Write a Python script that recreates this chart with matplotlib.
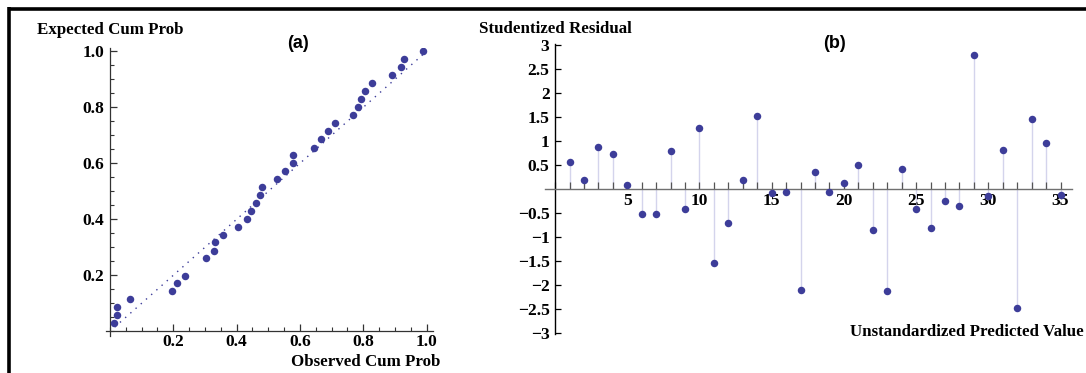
import matplotlib
matplotlib.use("Agg")
import matplotlib.pyplot as plt
from matplotlib.lines import Line2D
from matplotlib.ticker import MultipleLocator, FixedLocator
import numpy as np

# ---- data: panel (a) P-P plot ----
observed_cum_prob = [0.012, 0.021, 0.021, 0.063, 0.195, 0.213, 0.237, 0.304, 0.329, 0.333,
                     0.357, 0.403, 0.432, 0.445, 0.460, 0.474, 0.481, 0.526, 0.552, 0.577,
                     0.577, 0.643, 0.665, 0.689, 0.711, 0.766, 0.784, 0.792, 0.806, 0.827,
                     0.891, 0.919, 0.929, 0.989]
expected_cum_prob = [0.030, 0.058, 0.087, 0.114, 0.143, 0.171, 0.199, 0.260, 0.288, 0.317,
                     0.345, 0.373, 0.401, 0.430, 0.458, 0.486, 0.514, 0.543, 0.571, 0.600,
                     0.629, 0.656, 0.685, 0.717, 0.745, 0.774, 0.802, 0.830, 0.858, 0.887,
                     0.915, 0.943, 0.971, 1.000]
ref_line = [0.015, 1.0]

# ---- data: panel (b) studentized residuals ----
case_index = list(range(1, 36))
studentized_residual = [0.56, 0.19, 0.87, 0.74, 0.08, -0.51, -0.51, 0.79, -0.42, 1.27,
                        -1.54, -0.71, 0.19, 1.53, -0.09, -0.05, -2.09, 0.36, -0.05, 0.13,
                        0.50, -0.86, -2.12, 0.42, -0.42, -0.80, -0.24, -0.34, 2.79, -0.15,
                        0.82, -2.47, 1.46, 0.96, -0.13]

a_xticks = [0.2, 0.4, 0.6, 0.8, 1.0]
a_yticks = [0.2, 0.4, 0.6, 0.8, 1.0]
b_xticks = [5, 10, 15, 20, 25, 30, 35]
b_yticks = [-3, -2.5, -2, -1.5, -1, -0.5, 0.5, 1, 1.5, 2, 2.5, 3]

SERIF = ["Liberation Serif", "DejaVu Serif"]
SANS = ["Liberation Sans", "DejaVu Sans"]
PT = "#3d3d99"
STEM = "#d4d4ec"
TICKFS = 12.6
LABFS = 12.2

fig = plt.figure(figsize=(10.86, 3.73), dpi=100)

def fmt(v):
    s = ("%g" % v)
    return s.replace("-", "\u2212")

# ---------- panel (a) ----------
ax = fig.add_axes([0.0975, 0.0992, 0.3012, 0.7716])
ax.set_xlim(-0.013, 1.02)
ax.set_ylim(-0.017, 1.011)
for s in ["top", "right"]:
    ax.spines[s].set_visible(False)
ax.spines["left"].set_position(("data", 0))
ax.spines["bottom"].set_position(("data", 0))
for s in ["left", "bottom"]:
    ax.spines[s].set_color("#333333")
    ax.spines[s].set_linewidth(0.9)
ax.plot(ref_line, ref_line, linestyle=(0, (1, 4)), color=PT, lw=1.0, zorder=2)
ax.plot(observed_cum_prob, expected_cum_prob, "o", color=PT, ms=5.4, mec="none", zorder=3)
ax.xaxis.set_major_locator(FixedLocator(a_xticks))
ax.yaxis.set_major_locator(FixedLocator(a_yticks))
ax.xaxis.set_minor_locator(MultipleLocator(0.05))
ax.yaxis.set_minor_locator(MultipleLocator(0.05))
ax.set_xticklabels(["%.1f" % v for v in a_xticks])
ax.set_yticklabels(["%.1f" % v for v in a_yticks])
ax.tick_params(which="major", direction="in", length=5, width=0.9, color="#333333", pad=4)
ax.tick_params(which="minor", direction="in", length=3, width=0.8, color="#333333")
ax.tick_params(axis="x", which="major", pad=2)
for lab in ax.get_xticklabels() + ax.get_yticklabels():
    lab.set_fontfamily(SERIF)
    lab.set_fontweight("bold")
    lab.set_fontsize(TICKFS)
ax.patch.set_alpha(0)

fig.text(37 / 1086, 1 - 30 / 373, "Expected Cum Prob", family=SERIF, weight="bold",
         fontsize=LABFS, ha="left", va="center")
fig.text(440 / 1086, 1 - 362 / 373, "Observed Cum Prob", family=SERIF, weight="bold",
         fontsize=LABFS, ha="right", va="center")
fig.text(298 / 1086, 1 - 43 / 373, "(a)", family=SANS, weight="bold",
         fontsize=13, ha="center", va="center")

# ---------- panel (b) ----------
bx = fig.add_axes([0.5018, 0.1038, 0.4854, 0.7794])
bx.set_xlim(-0.7, 35.8)
bx.set_ylim(-3.02, 3.03)
for s in ["top", "right"]:
    bx.spines[s].set_visible(False)
bx.spines["left"].set_position(("data", 0))
bx.spines["bottom"].set_position(("data", 0))
bx.spines["left"].set_color("black")
bx.spines["left"].set_linewidth(1.0)
bx.spines["bottom"].set_color("#707070")
bx.spines["bottom"].set_linewidth(1.0)
bx.vlines(case_index, 0, studentized_residual, color=STEM, lw=1.0, zorder=1)
bx.plot(case_index, studentized_residual, "o", color=PT, ms=5.4, mec="none", zorder=3)
bx.xaxis.set_major_locator(FixedLocator(b_xticks))
bx.xaxis.set_minor_locator(MultipleLocator(1))
bx.yaxis.set_major_locator(FixedLocator(b_yticks))
bx.set_xticklabels([fmt(v) for v in b_xticks])
bx.set_yticklabels([fmt(v) for v in b_yticks])
bx.tick_params(axis="x", which="both", direction="in", length=5, width=0.9, color="#555555", pad=3)
bx.tick_params(axis="y", which="major", direction="in", length=4, width=0.9, color="black", pad=4)
for lab in bx.get_xticklabels() + bx.get_yticklabels():
    lab.set_fontfamily(SERIF)
    lab.set_fontweight("bold")
    lab.set_fontsize(TICKFS)
bx.patch.set_alpha(0)

fig.text(479 / 1086, 1 - 29 / 373, "Studentized Residual", family=SERIF, weight="bold",
         fontsize=LABFS, ha="left", va="center")
fig.text(1084 / 1086, 1 - 332 / 373, "Unstandardized Predicted Value", family=SERIF,
         weight="bold", fontsize=LABFS, ha="right", va="center")
fig.text(835 / 1086, 1 - 43 / 373, "(b)", family=SANS, weight="bold",
         fontsize=13, ha="center", va="center")

# ---------- frame ----------
fig.add_artist(Line2D([9 / 1086, 1.0], [1 - 8.5 / 373, 1 - 8.5 / 373],
                      transform=fig.transFigure, color="black", lw=2.6,
                      solid_capstyle="butt"))
fig.add_artist(Line2D([9 / 1086, 9 / 1086], [0.0, 1 - 7 / 373],
                      transform=fig.transFigure, color="black", lw=2.6,
                      solid_capstyle="butt"))

fig.savefig("out.png", dpi=100)
